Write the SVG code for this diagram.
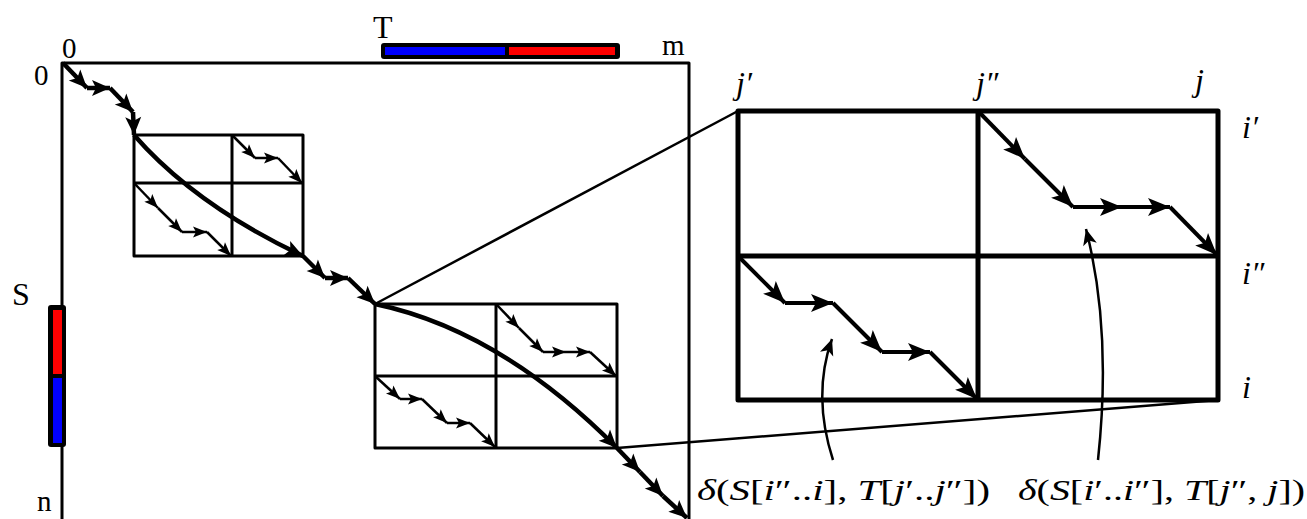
<svg xmlns="http://www.w3.org/2000/svg" width="1307" height="519" viewBox="0 0 1307 519">
<style>
.ln{stroke:#000;fill:none;stroke-linecap:butt;stroke-linejoin:round}
.main{stroke-width:3}
.sub{stroke-width:2.5}
.thick{stroke-width:4.5}
.big{stroke-width:5}
.bigp{stroke-width:4}
.txt{font-family:"Liberation Serif","DejaVu Serif",serif;fill:#000}
.it{font-style:italic}
</style>
<defs>
<marker id="as" markerUnits="userSpaceOnUse" viewBox="-15 -7 16 14" markerWidth="16" markerHeight="14" refX="0" refY="0" orient="auto" overflow="visible"><path d="M0,0 L-14,-5.5 L-11,0 L-14,5.5 Z" fill="#000"/></marker>
<marker id="am" markerUnits="userSpaceOnUse" viewBox="-19 -9 20 18" markerWidth="20" markerHeight="18" refX="0" refY="0" orient="auto" overflow="visible"><path d="M0,0 L-18,-8 L-14,0 L-18,8 Z" fill="#000"/></marker>
<marker id="al" markerUnits="userSpaceOnUse" viewBox="-23 -10 24 20" markerWidth="24" markerHeight="20" refX="0" refY="0" orient="auto" overflow="visible"><path d="M0,0 L-22,-9 L-17,0 L-22,9 Z" fill="#000"/></marker>
<marker id="ac" markerUnits="userSpaceOnUse" viewBox="-17 -8 18 16" markerWidth="18" markerHeight="16" refX="0" refY="0" orient="auto" overflow="visible"><path d="M0,0 L-16,-7 L-12,0 L-16,7 Z" fill="#000"/></marker>
</defs>

<g id="matrix">
<path class="ln main" d="M62,519 L62,63 L689,63 L689,519"/>
<text class="txt" x="62" y="58" font-size="29">0</text>
<text class="txt" x="34" y="85" font-size="29">0</text>
<text class="txt" x="662" y="55" font-size="29">m</text>
<text class="txt" x="37" y="511" font-size="29">n</text>
</g>

<g id="T-bar">
<rect x="381" y="43" width="239" height="16" rx="3" fill="#000"/>
<rect x="385" y="47" width="120" height="8" fill="#0000ff"/>
<rect x="509" y="47" width="106" height="8" fill="#ff0000"/>
<text class="txt" x="373" y="38" font-size="32">T</text>
</g>

<g id="S-bar">
<rect x="48" y="305" width="18" height="142" rx="3" fill="#000"/>
<rect x="53" y="310" width="9" height="64" fill="#ff0000"/>
<rect x="53" y="378" width="9" height="65" fill="#0000ff"/>
<text class="txt" x="12" y="305" font-size="32">S</text>
</g>

<g id="box1">
<rect class="ln main" x="134" y="135" width="169" height="121"/>
<line class="ln main" x1="232" y1="135" x2="232" y2="256"/>
<line class="ln main" x1="134" y1="183" x2="303" y2="183"/>
</g>

<g id="box2">
<rect class="ln main" x="375" y="304" width="242" height="144"/>
<line class="ln main" x1="496" y1="304" x2="496" y2="448"/>
<line class="ln main" x1="375" y1="376" x2="617" y2="376"/>
</g>

<g id="zoom-box">
<rect class="ln big" x="738" y="111" width="480" height="289"/>
<line class="ln big" x1="978" y1="111" x2="978" y2="400"/>
<line class="ln big" x1="738" y1="256" x2="1218" y2="256"/>
<text class="txt it" x="736" y="94" font-size="32">j′</text>
<text class="txt it" x="976" y="94" font-size="32">j″</text>
<text class="txt it" x="1195" y="91" font-size="32">j</text>
<text class="txt it" x="1242" y="138" font-size="32">i′</text>
<text class="txt it" x="1242" y="284" font-size="32">i″</text>
<text class="txt it" x="1242" y="398" font-size="32">i</text>
</g>

<g id="label-left">
<text class="txt" x="697" y="500" font-size="30" textLength="293" lengthAdjust="spacingAndGlyphs"><tspan class="it">δ</tspan>(<tspan class="it">S</tspan>[<tspan class="it">i</tspan>″..<tspan class="it">i</tspan>], <tspan class="it">T</tspan>[<tspan class="it">j</tspan>′..<tspan class="it">j</tspan>″])</text>
</g>
<g id="label-right">
<text class="txt" x="1018" y="500" font-size="30" textLength="287" lengthAdjust="spacingAndGlyphs"><tspan class="it">δ</tspan>(<tspan class="it">S</tspan>[<tspan class="it">i</tspan>′..<tspan class="it">i</tspan>″], <tspan class="it">T</tspan>[<tspan class="it">j</tspan>″, <tspan class="it">j</tspan>])</text>
</g>

<g id="connectors">
<line class="ln sub" x1="375" y1="304" x2="738" y2="111"/>
<line class="ln sub" x1="617" y1="448" x2="1218" y2="400"/>

<g class="main-path">
<path class="ln thick" d="M63,63 L87,88" marker-end="url(#am)"/>
<path class="ln thick" d="M87,88 L110,88" marker-end="url(#am)"/>
<path class="ln thick" d="M110,88 L133,112" marker-end="url(#am)"/>
<path class="ln thick" d="M133,112 L134,135" marker-end="url(#am)"/>
<path class="ln thick" d="M134,135 Q195,205 303,256" marker-end="url(#am)"/>
<path class="ln thick" d="M303,256 L325,278" marker-end="url(#am)"/>
<path class="ln thick" d="M325,278 L348,278" marker-end="url(#am)"/>
<path class="ln thick" d="M348,278 L375,304" marker-end="url(#am)"/>
<path class="ln thick" d="M375,304 Q500,330 617,448" marker-end="url(#am)"/>
<path class="ln thick" d="M617,448 L640,472" marker-end="url(#am)"/>
<path class="ln thick" d="M640,472 L663,496" marker-end="url(#am)"/>
<path class="ln thick" d="M663,496 L687,518" marker-end="url(#am)"/>
</g>

<g class="box1-paths">
<path class="ln sub" d="M232,135 L255,158" marker-end="url(#as)"/>
<path class="ln sub" d="M255,158 L278,158" marker-end="url(#as)"/>
<path class="ln sub" d="M278,158 L302,183" marker-end="url(#as)"/>
<path class="ln sub" d="M134,183 L158,208" marker-end="url(#as)"/>
<path class="ln sub" d="M158,208 L182,232" marker-end="url(#as)"/>
<path class="ln sub" d="M182,232 L207,232" marker-end="url(#as)"/>
<path class="ln sub" d="M207,232 L231,256" marker-end="url(#as)"/>
</g>

<g class="box2-paths">
<path class="ln sub" d="M496,304 L519,328" marker-end="url(#as)"/>
<path class="ln sub" d="M519,328 L543,352" marker-end="url(#as)"/>
<path class="ln sub" d="M543,352 L566,352" marker-end="url(#as)"/>
<path class="ln sub" d="M566,352 L590,352" marker-end="url(#as)"/>
<path class="ln sub" d="M590,352 L616,376" marker-end="url(#as)"/>
<path class="ln sub" d="M375,376 L400,399" marker-end="url(#as)"/>
<path class="ln sub" d="M400,399 L422,399" marker-end="url(#as)"/>
<path class="ln sub" d="M422,399 L447,423" marker-end="url(#as)"/>
<path class="ln sub" d="M447,423 L470,423" marker-end="url(#as)"/>
<path class="ln sub" d="M470,423 L495,447" marker-end="url(#as)"/>
</g>

<g class="zoom-paths">
<path class="ln bigp" d="M738,256 L785,303" marker-end="url(#al)"/>
<path class="ln bigp" d="M785,303 L833,303" marker-end="url(#al)"/>
<path class="ln bigp" d="M833,303 L882,352" marker-end="url(#al)"/>
<path class="ln bigp" d="M882,352 L930,352" marker-end="url(#al)"/>
<path class="ln bigp" d="M930,352 L977,399" marker-end="url(#al)"/>
<path class="ln bigp" d="M978,111 L1025,159" marker-end="url(#al)"/>
<path class="ln bigp" d="M1025,159 L1073,207" marker-end="url(#al)"/>
<path class="ln bigp" d="M1073,207 L1122,207" marker-end="url(#al)"/>
<path class="ln bigp" d="M1122,207 L1170,207" marker-end="url(#al)"/>
<path class="ln bigp" d="M1170,207 L1217,255" marker-end="url(#al)"/>
</g>

<path class="ln sub" d="M833,460 Q812,395 832,339" marker-end="url(#ac)"/>
<path class="ln sub" d="M1098,460 Q1112,330 1086,229" marker-end="url(#ac)"/>
</g>
</svg>
